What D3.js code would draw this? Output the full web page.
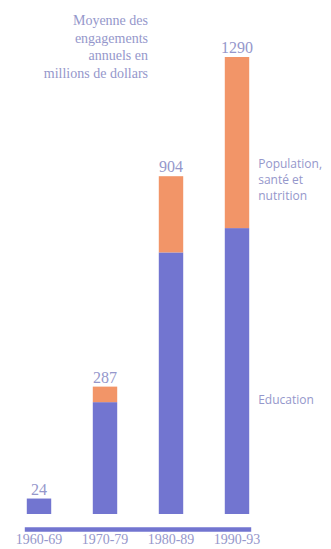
<!DOCTYPE html>
<html>
<head>
<meta charset="utf-8">
<script src="https://cdn.jsdelivr.net/npm/d3@7"></script>
<style>
  body { margin: 0; background: #fff; }
  svg { display: block; }
</style>
</head>
<body>
<div class="chart"></div>
<script>
// periods and annual commitments (millions of dollars)
const periods = ["1960-69", "1970-79", "1980-89", "1990-93"];
const totals = [24, 287, 904, 1290];
const education = [24, 252, 700, 807];
const health = [0, 35, 204, 483];
const titleLines = ["Moyenne des", "engagements", "annuels en", "millions de dollars"];
const healthLabel = ["Population,", "santé et", "nutrition"];
const eduLabel = ["Education"];

const width = 331, height = 549;
const blue = "#7275d0", orange = "#f29568", txt = "#9597cb";
const serif = "'Liberation Serif', 'DejaVu Serif', serif";
const sans = "'Open Sans', 'DejaVu Sans', sans-serif";

const svg = d3.select(".chart").append("svg")
  .attr("width", width)
  .attr("height", height);

const x = d3.scaleBand()
  .domain(periods)
  .range([6, 270])
  .paddingInner(0.63)
  .paddingOuter(0.315);

// bars in the original are not drawn to a linear scale
const y = d3.scalePow()
  .exponent(0.85)
  .domain([0, 1290])
  .range([514, 57]);

const rows = periods.map((p, i) => ({
  period: p, total: totals[i], edu: education[i], phn: health[i]
}));

const bars = svg.append("g").selectAll("g")
  .data(rows)
  .enter().append("g");

// split each bar between the two sectors
bars.each(function(d) {
  const inner = d3.scaleLinear().domain([0, d.total]).range([y(0), y(d.total)]);
  const g = d3.select(this);
  g.append("rect")
    .attr("x", x(d.period))
    .attr("width", x.bandwidth())
    .attr("y", inner(d.edu))
    .attr("height", inner(0) - inner(d.edu))
    .attr("fill", blue);
  if (d.phn > 0) {
    g.append("rect")
      .attr("x", x(d.period))
      .attr("width", x.bandwidth())
      .attr("y", inner(d.total))
      .attr("height", inner(d.edu) - inner(d.total))
      .attr("fill", orange);
  }
});

bars.append("text")
  .attr("x", d => x(d.period) + x.bandwidth() / 2)
  .attr("y", d => y(d.total) - 4)
  .attr("text-anchor", "middle")
  .attr("fill", txt)
  .style("font-family", serif)
  .style("font-size", "16px")
  .text(d => d.total);

// base line
svg.append("line")
  .attr("x1", x(periods[0]) - 2)
  .attr("x2", x(periods[3]) + x.bandwidth() + 2)
  .attr("y1", 529.5)
  .attr("y2", 529.5)
  .attr("stroke", blue)
  .attr("stroke-width", 4.5);

svg.append("g").selectAll("text")
  .data(periods)
  .enter().append("text")
  .attr("x", d => x(d) + x.bandwidth() / 2)
  .attr("y", 544)
  .attr("text-anchor", "middle")
  .attr("fill", txt)
  .style("font-family", serif)
  .style("font-size", "14px")
  .text(d => d);

// title
svg.append("text")
  .attr("text-anchor", "end")
  .attr("fill", txt)
  .style("font-family", serif)
  .style("font-size", "14px")
  .selectAll("tspan")
  .data(titleLines)
  .enter().append("tspan")
  .attr("x", 148)
  .attr("y", (d, i) => 25 + i * 17.5)
  .text(d => d);

// sector labels
const lx = x(periods[3]) + x.bandwidth() + 9;
svg.append("text")
  .attr("fill", txt)
  .style("font-family", sans)
  .style("font-size", "12px")
  .selectAll("tspan")
  .data(healthLabel)
  .enter().append("tspan")
  .attr("x", lx)
  .attr("y", (d, i) => 168 + i * 16)
  .text(d => d);

svg.append("text")
  .attr("fill", txt)
  .style("font-family", sans)
  .style("font-size", "12px")
  .selectAll("tspan")
  .data(eduLabel)
  .enter().append("tspan")
  .attr("x", lx)
  .attr("y", 404)
  .text(d => d);
</script>
</body>
</html>
